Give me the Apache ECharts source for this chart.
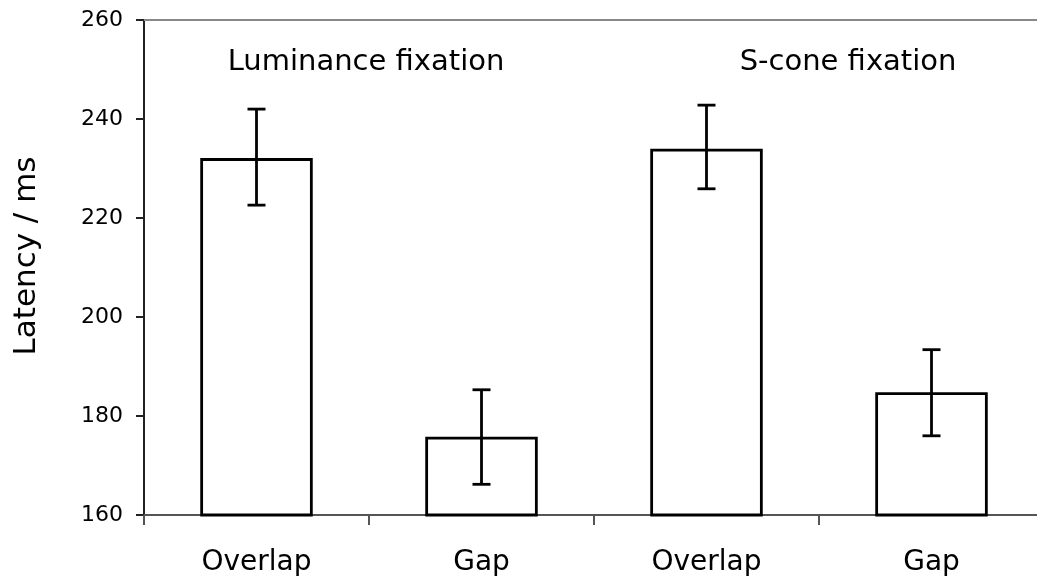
<!DOCTYPE html>
<html>
<head>
<meta charset="utf-8">
<script src="https://cdn.jsdelivr.net/npm/echarts@6/dist/echarts.min.js"></script>
<style>
  html, body {margin: 0; padding: 0; background: #fff;}
  #chart {width: 1037px; height: 586px;}
</style>
</head>
<body>
<div id="chart"></div>
<script>
// values
const categories = ['Overlap', 'Gap', 'Overlap', 'Gap']
const latency = [232.1, 175.8, 234.0, 184.8]
const errLow = [222.6, 166.2, 225.9, 176.0]
const errHigh = [242.0, 185.3, 242.8, 193.4]
const groupLabels = ['Luminance fixation', 'S-cone fixation']

const font = 'DejaVu Sans'
const chart = echarts.init(document.getElementById('chart'))

let errData = []
for (let i = 0; i < categories.length; i++) {
    errData.push([i, errLow[i], errHigh[i]])
}

chart.setOption({
    animation: false,
    backgroundColor: '#fff',
    grid: {left: 144, top: 20, bottom: 71, width: 900, outerBoundsMode: 'none', containLabel: false},
    xAxis: [{
        type: 'category',
        data: categories,
        boundaryGap: true,
        axisLine: {lineStyle: {color: '#555', width: 2}},
        axisTick: {show: true, length: 10, lineStyle: {color: '#555', width: 2}},
        axisLabel: {color: '#000', fontFamily: font, fontSize: 28, margin: 34}
    }, {
        type: 'category',
        data: categories,
        position: 'top',
        axisLine: {lineStyle: {color: '#888', width: 2}},
        axisTick: {show: false},
        axisLabel: {show: false}
    }],
    yAxis: {
        type: 'value',
        min: 160,
        max: 260,
        interval: 20,
        axisLine: {show: true, lineStyle: {color: '#222', width: 2}},
        axisTick: {show: true, length: 8, lineStyle: {color: '#222', width: 2}},
        splitLine: {show: false},
        axisLabel: {color: '#000', fontFamily: font, fontSize: 22, margin: 21}
    },
    graphic: [
        {type: 'text', x: 366, y: 62, style: {text: groupLabels[0], font: '29px "DejaVu Sans"', fill: '#000', align: 'center', verticalAlign: 'middle'}},
        {type: 'text', x: 848, y: 62, style: {text: groupLabels[1], font: '29px "DejaVu Sans"', fill: '#000', align: 'center', verticalAlign: 'middle'}},
        {type: 'text', x: 27, y: 256, rotation: Math.PI / 2, style: {text: 'Latency / ms', font: '31px "DejaVu Sans"', fill: '#000', align: 'center', verticalAlign: 'middle'}}
    ],
    series: [{
        type: 'bar',
        data: latency,
        barWidth: '50%',
        itemStyle: {color: '#fff', borderColor: '#000', borderWidth: 2.8}
    }, {
        type: 'custom',
        data: errData,
        encode: {x: 0, y: [1, 2]},
        z: 5,
        renderItem: function (params, api) {
            const lo = api.coord([api.value(0), api.value(1)])
            const hi = api.coord([api.value(0), api.value(2)])
            const cap = 9
            const style = {stroke: '#000', lineWidth: 2.8}
            return {
                type: 'group',
                children: [
                    {type: 'line', shape: {x1: hi[0], y1: hi[1], x2: lo[0], y2: lo[1]}, style: style},
                    {type: 'line', shape: {x1: hi[0] - cap, y1: hi[1], x2: hi[0] + cap, y2: hi[1]}, style: style},
                    {type: 'line', shape: {x1: lo[0] - cap, y1: lo[1], x2: lo[0] + cap, y2: lo[1]}, style: style}
                ]
            }
        }
    }]
})
</script>
</body>
</html>
